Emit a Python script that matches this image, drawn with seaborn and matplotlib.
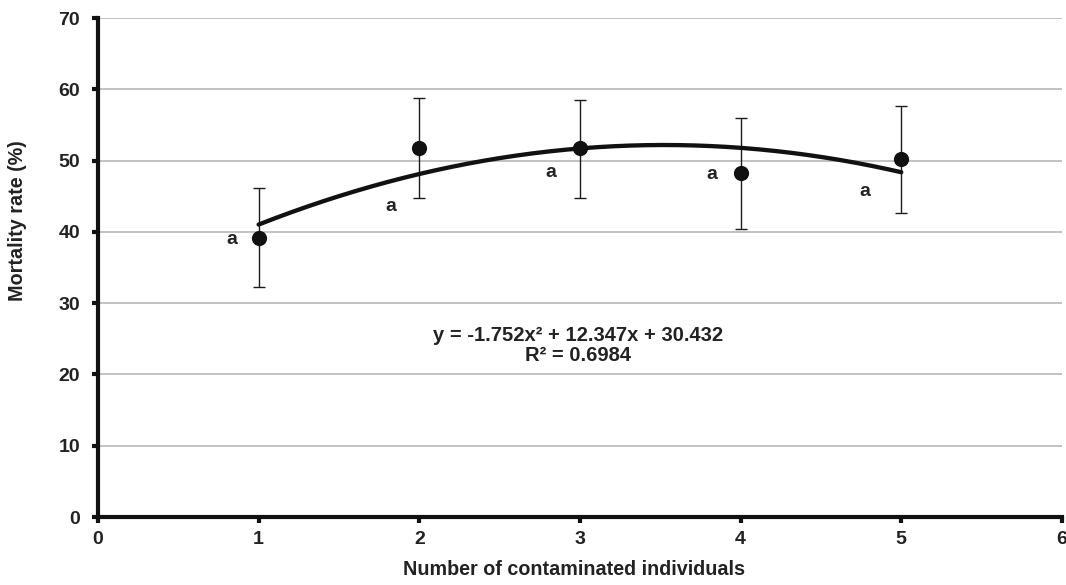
import numpy as np
import pandas as pd
import matplotlib
matplotlib.use("Agg")
import matplotlib.pyplot as plt
import seaborn as sns

# Data
x_vals = [1, 2, 3, 4, 5]
mortality = [39.2, 51.8, 51.7, 48.2, 50.2]
err_low = [32.3, 44.8, 44.8, 40.4, 42.6]
err_high = [46.1, 58.8, 58.5, 56.0, 57.7]
letters = ["a", "a", "a", "a", "a"]
letter_x = [0.83, 1.82, 2.82, 3.82, 4.77]
letter_y = [39.0, 43.5, 48.3, 48.0, 45.7]
coef = [-1.752, 12.347, 30.432]
r2 = 0.6984
x_ticks = [0, 1, 2, 3, 4, 5, 6]
y_ticks = [0, 10, 20, 30, 40, 50, 60, 70]

sns.set_theme(style="white")
plt.rcParams['font.family'] = ['Liberation Sans', 'DejaVu Sans']
plt.rcParams['font.weight'] = 'bold'

fig = plt.figure(figsize=(10.66, 5.85), dpi=100)
ax = fig.add_axes([0.0919, 0.1162, 0.9043, 0.853])

df = pd.DataFrame({"x": x_vals, "y": mortality})
yerr = np.array([np.array(mortality) - np.array(err_low),
                 np.array(err_high) - np.array(mortality)])

ax.errorbar(x_vals, mortality, yerr=yerr, fmt="none", ecolor="#1a1a1a",
            elinewidth=1, capsize=4.3, capthick=1, zorder=3)

xs = np.linspace(1, 5, 200)
curve = pd.DataFrame({"x": xs, "y": np.polyval(coef, xs)})
sns.lineplot(data=curve, x="x", y="y", ax=ax, color="#111111", linewidth=3.1, zorder=4)
sns.scatterplot(data=df, x="x", y="y", ax=ax, color="#111111", s=120,
                linewidth=0, zorder=5)

for lx, ly, t in zip(letter_x, letter_y, letters):
    ax.text(lx, ly, t, ha="center", va="center", fontsize=14,
            fontweight="bold", color="#222222")

eq = f"y = {coef[0]}x² + {coef[1]}x + {coef[2]}\nR² = {r2}"
ax.text(2.99, 24.1, eq, ha="center", va="center", fontsize=14.5,
        fontweight="bold", color="#222222", linespacing=1.05)

ax.set_xlim(0, 6)
ax.set_ylim(0, 70)
ax.set_xticks(x_ticks)
ax.set_yticks(y_ticks)
ax.yaxis.grid(True, color="#b8b8b8", linewidth=1.2)
ax.xaxis.grid(False)
ax.set_axisbelow(True)
for s in ["top", "right"]:
    ax.spines[s].set_visible(False)
for s in ["left", "bottom"]:
    ax.spines[s].set_color("#111111")
    ax.spines[s].set_linewidth(3)
ax.tick_params(axis="both", which="major", direction="out", length=4, width=3,
               color="#111111", labelsize=14, labelcolor="#222222")
ax.tick_params(axis="y", pad=9)
ax.tick_params(axis="x", pad=6)
ax.tick_params(bottom=True, left=True)
for lab in ax.get_xticklabels() + ax.get_yticklabels():
    lab.set_fontweight("bold")
ax.set_xlabel("Number of contaminated individuals", fontsize=14.2,
              fontweight="bold", color="#222222")
ax.set_ylabel("Mortality rate (%)", fontsize=14.2, fontweight="bold",
              color="#222222")
ax.xaxis.set_label_coords(0.494, -0.106)
ax.yaxis.set_label_coords(-0.083, 0.593)
ax.xaxis.label.set_va("center")
ax.yaxis.label.set_va("center")

fig.savefig("out.png", dpi=100)
